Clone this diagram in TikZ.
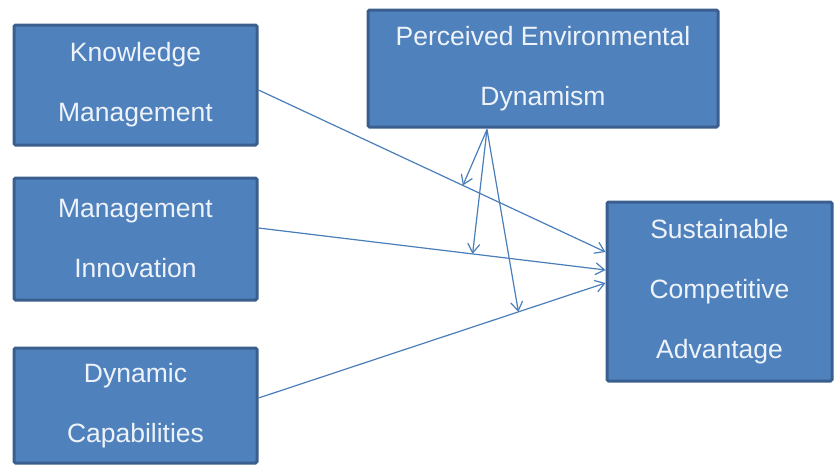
\documentclass[tikz,border=0pt]{standalone}
\usepackage{fontspec}
\setmainfont{Liberation Sans}
\usetikzlibrary{arrows.meta}
\definecolor{boxfill}{HTML}{4F81BD}
\definecolor{boxline}{HTML}{3A5F8E}
\definecolor{arrowc}{HTML}{4A7EBB}
\definecolor{txt}{HTML}{EEF3FA}
\tikzset{
  box/.style={draw=boxline, line width=3pt, fill=boxfill, rounded corners=1.5pt,
    text=txt, align=center, inner sep=0pt,
    font=\fontsize{26.5}{60}\selectfont},
  conn/.style={draw=arrowc, line width=1.2pt, -{Straight Barb[length=9pt,width=12pt]}}
}
\begin{document}
\begin{tikzpicture}[x=1pt,y=-1pt]
\useasboundingbox (0,0) rectangle (837,464);
\node[box, minimum width=243pt, minimum height=120pt] (KM) at (135.5,85) {Knowledge\\Management};
\node[box, minimum width=243pt, minimum height=122pt] (MI) at (135.5,239) {Management\\Innovation};
\node[box, minimum width=243pt, minimum height=115pt] (DC) at (135.5,405.5) {Dynamic\\Capabilities};
\node[box, minimum width=350pt, minimum height=117pt] (PED) at (543,68.5) {Perceived Environmental\\Dynamism};
\node[box, minimum width=225pt, minimum height=179pt] (SCA) at (719.5,291.5) {Sustainable\\Competitive\\Advantage};

\draw[conn] ([yshift=-5pt]KM.east) -- coordinate[pos=0.589] (m1) ([yshift=39.5pt]SCA.west);
\draw[conn] ([yshift=11pt]MI.east) -- coordinate[pos=0.617] (m2) ([yshift=21.5pt]SCA.west);
\draw[conn] ([yshift=7.5pt]DC.east) -- coordinate[pos=0.749] (m3) ([yshift=8.5pt]SCA.west);

\coordinate (ps) at ([xshift=-56pt,yshift=-1pt]PED.south);
\draw[conn] (ps) -- (m1);
\draw[conn] (ps) -- (m2);
\draw[conn] (ps) -- (m3);
\end{tikzpicture}
\end{document}
